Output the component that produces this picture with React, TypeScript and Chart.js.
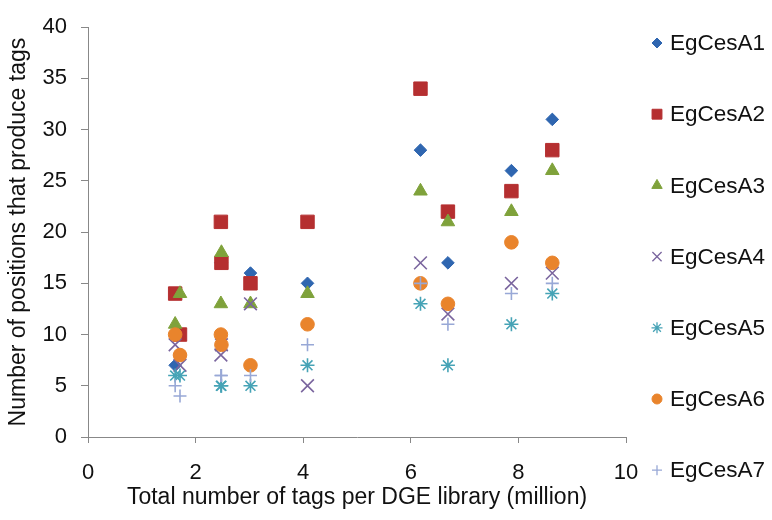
import { useEffect, useRef } from "react";
import { Chart, registerables } from "chart.js";
import { drawPoint } from "chart.js/helpers";

Chart.register(...registerables);

// Total number of tags per DGE library (million)
const libraryTags = [1.62, 1.71, 2.47, 2.48, 3.02, 4.08, 6.18, 6.69, 7.87, 8.63];

// Number of positions that produce tags, per gene, one value per library
const egCesA1 = [7, 8, 17, 17, 16, 15, 28, 17, 26, 31];
const egCesA2 = [14, 10, 21, 17, 15, 21, 34, 22, 24, 28];
const egCesA3 = [11, 14, 13, 18, 13, 14, 24, 21, 22, 26];
const egCesA4 = [9, 7, 8, 9, 13, 5, 17, 12, 15, 16];
const egCesA5 = [6, 6, 5, 5, 5, 7, 13, 7, 11, 14];
const egCesA6 = [10, 8, 10, 9, 7, 11, 15, 13, 19, 17];
const egCesA7 = [5, 4, 6, 6, 6, 9, 15, 11, 14, 15];

const seriesNames = ["EgCesA1", "EgCesA2", "EgCesA3", "EgCesA4", "EgCesA5", "EgCesA6", "EgCesA7"];
const seriesValues = [egCesA1, egCesA2, egCesA3, egCesA4, egCesA5, egCesA6, egCesA7];
const seriesColors = ["#2F66B0", "#B52F30", "#7FA23B", "#7A659E", "#46A3B6", "#E9842C", "#98A8D6"];
const seriesShapes = ["rectRot", "rect", "triangle", "crossRot", "star", "circle", "cross"];
const seriesRadius = [6.3, 9.5, 7.8, 9, 7, 6.8, 6.5];
const legendRadius = [5, 7, 6, 6.5, 5.5, 5, 5];
const lineShapes = new Set(["crossRot", "star", "cross"]);

const FONT = "'Liberation Sans', Arial, sans-serif";

const sideLegend = {
  id: "sideLegend",
  afterDraw(chart: any) {
    const ctx = chart.ctx as CanvasRenderingContext2D;
    const x = chart.chartArea.right + 31;
    ctx.save();
    chart.data.datasets.forEach((ds: any, i: number) => {
      const y = 43 + i * 71.2;
      const line = lineShapes.has(ds.pointStyle);
      ctx.fillStyle = ds.backgroundColor;
      ctx.strokeStyle = ds.borderColor;
      ctx.lineWidth = line ? 1.3 : 1;
      drawPoint(ctx, { pointStyle: ds.pointStyle, radius: legendRadius[i], rotation: 0, borderWidth: ctx.lineWidth }, x, y);
      ctx.fillStyle = "#111";
      ctx.font = `22.5px ${FONT}`;
      ctx.textBaseline = "middle";
      ctx.textAlign = "left";
      ctx.fillText(ds.label, x + 13, y + 1);
    });
    ctx.restore();
  },
};

export default function App() {
  const canvasRef = useRef<HTMLCanvasElement | null>(null);

  useEffect(() => {
    const canvas = canvasRef.current;
    if (!canvas) return;
    const datasets = seriesNames.map((name, i) => {
      const line = lineShapes.has(seriesShapes[i]);
      return {
        label: name,
        data: libraryTags.map((x, j) => ({ x, y: seriesValues[i][j] })),
        pointStyle: seriesShapes[i],
        pointRadius: seriesRadius[i],
        pointHoverRadius: seriesRadius[i],
        backgroundColor: seriesColors[i],
        borderColor: seriesColors[i],
        borderWidth: line ? 1.6 : 1,
        showLine: false,
        // later series are painted over earlier ones
        order: seriesNames.length - i,
      };
    });

    const chart = new Chart(canvas, {
      type: "scatter",
      data: { datasets: datasets as any },
      plugins: [sideLegend],
      options: {
        animation: false,
        responsive: false,
        maintainAspectRatio: false,
        layout: { padding: { left: 0, right: 146, top: 19, bottom: 0 } },
        plugins: { legend: { display: false }, tooltip: { enabled: false } },
        scales: {
          x: {
            type: "linear",
            min: 0,
            max: 10,
            ticks: { stepSize: 2, color: "#111", font: { family: FONT, size: 22 }, padding: 17, maxRotation: 0 },
            grid: { drawOnChartArea: false, drawTicks: true, tickLength: 6, color: "#888", tickColor: "#888" },
            border: { color: "#888", width: 1 },
            title: {
              display: true,
              text: "Total number of tags per DGE library (million)",
              color: "#111",
              font: { family: FONT, size: 23 },
              padding: { top: 0, bottom: 9 },
            },
            afterFit(scale: any) {
              scale.height = 83;
            },
          },
          y: {
            type: "linear",
            min: 0,
            max: 40,
            ticks: { stepSize: 5, color: "#111", font: { family: FONT, size: 22 }, padding: 14 },
            grid: { drawOnChartArea: false, drawTicks: true, tickLength: 7, color: "#888", tickColor: "#888" },
            border: { color: "#888", width: 1 },
            title: {
              display: true,
              text: "Number of positions that produce tags",
              color: "#111",
              font: { family: FONT, size: 23 },
              padding: { top: 5, bottom: 0 },
            },
            afterFit(scale: any) {
              scale.width = 88;
            },
          },
        },
      },
    });
    return () => chart.destroy();
  }, []);

  return (
    <div style={{ position: "fixed", left: 0, top: 0, width: 772, height: 520, background: "#fff" }}>
      <canvas ref={canvasRef} width={772} height={520} style={{ width: 772, height: 520 }} />
    </div>
  );
}
